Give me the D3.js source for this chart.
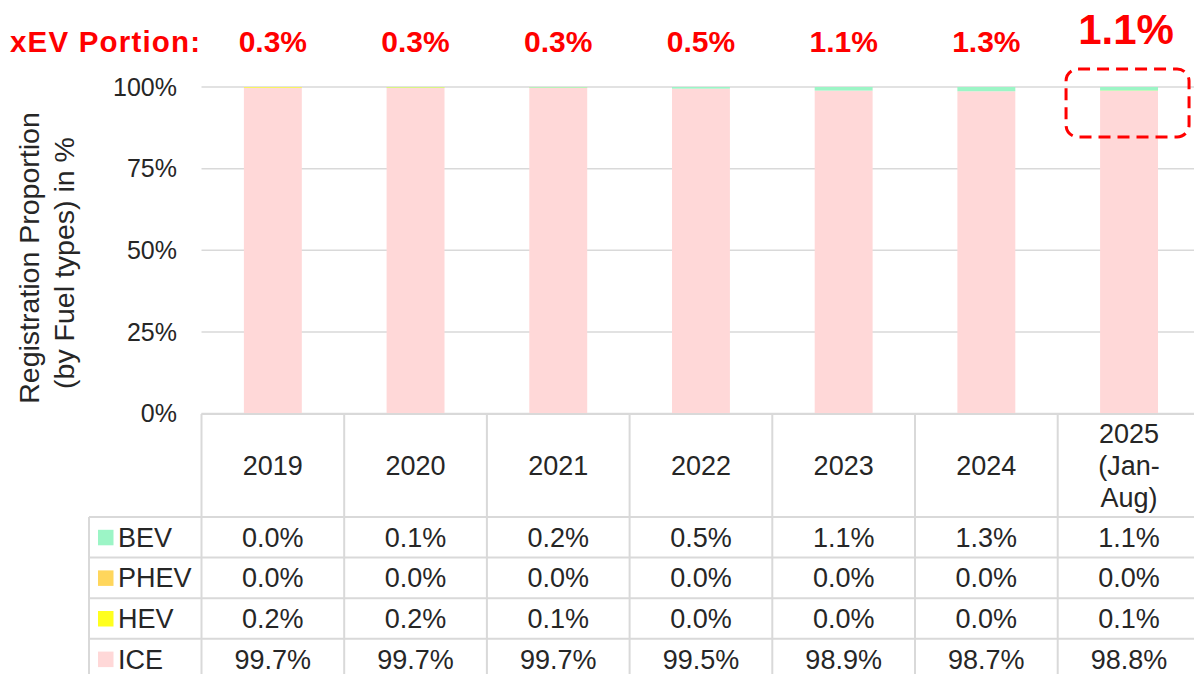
<!DOCTYPE html>
<html>
<head>
<meta charset="utf-8">
<script src="https://cdn.jsdelivr.net/npm/d3@7"></script>
<style>
  body { margin: 0; background: #fff; }
  svg { font-family: "Liberation Sans", Arial, sans-serif; display: block; }
  .grid line { stroke: #d9d9d9; stroke-width: 1.5px; }
  .tbl line { stroke: #d9d9d9; stroke-width: 2px; }
  .cell { fill: #262626; font-size: 27px; text-anchor: middle; }
  .tick-lbl { fill: #262626; font-size: 25px; text-anchor: end; }
  .xev { fill: #ff0000; font-weight: bold; text-anchor: middle; }
</style>
</head>
<body>
<div id="chart"></div>
<script>
// data
var years = ["2019", "2020", "2021", "2022", "2023", "2024", "2025"];
var yearLabels = [["2019"], ["2020"], ["2021"], ["2022"], ["2023"], ["2024"], ["2025", "(Jan-", "Aug)"]];
var fuelTypes = ["BEV", "PHEV", "HEV", "ICE"];
var bev  = [0.0, 0.1, 0.2, 0.5, 1.1, 1.3, 1.1];
var phev = [0.0, 0.0, 0.0, 0.0, 0.0, 0.0, 0.0];
var hev  = [0.2, 0.2, 0.1, 0.0, 0.0, 0.0, 0.1];
var ice  = [99.7, 99.7, 99.7, 99.5, 98.9, 98.7, 98.8];
var xevPortion = [0.3, 0.3, 0.3, 0.5, 1.1, 1.3, 1.1];
var yTicks = [0, 0.25, 0.5, 0.75, 1];

var colors = { BEV: "#9cf5c6", PHEV: "#ffd65c", HEV: "#ffff1e", ICE: "#ffd8d8" };
var series = { BEV: bev, PHEV: phev, HEV: hev, ICE: ice };

var W = 1194, H = 674;
var colW = 142.7, x0 = 201.5;
var rowTop = 517, rowH = 40.6;

var rows = years.map(function (y, i) {
  return { year: y, BEV: bev[i], PHEV: phev[i], HEV: hev[i], ICE: ice[i] };
});

var svg = d3.select("#chart").append("svg")
    .attr("width", W)
    .attr("height", H);

var x = d3.scaleBand()
    .domain(years)
    .range([x0, x0 + colW * years.length])
    .paddingInner(0.594)
    .paddingOuter(0.297);

var y = d3.scaleLinear().domain([0, 1]).range([413.5, 87]);

// gridlines
svg.append("g").attr("class", "grid")
  .selectAll("line").data(yTicks).enter().append("line")
    .attr("x1", x0).attr("x2", W)
    .attr("y1", function (d) { return y(d); })
    .attr("y2", function (d) { return y(d); });

// tick labels
svg.selectAll(".tick-lbl").data(yTicks).enter().append("text")
    .attr("class", "tick-lbl")
    .attr("x", 177)
    .attr("y", function (d) { return y(d); })
    .attr("dy", "0.35em")
    .text(d3.format(".0%"));

// stacked bars, ICE at bottom
var stack = d3.stack()
    .keys(["ICE", "HEV", "PHEV", "BEV"])
    .offset(d3.stackOffsetExpand);

svg.append("g").selectAll("g").data(stack(rows)).enter().append("g")
    .attr("fill", function (d) { return colors[d.key]; })
  .selectAll("rect").data(function (d) { return d; }).enter().append("rect")
    .attr("x", function (d) { return x(d.data.year); })
    .attr("width", x.bandwidth())
    .attr("y", function (d) { return y(d[1]); })
    .attr("height", function (d) { return Math.max(0, y(d[0]) - y(d[1])); });

// table
var tbl = svg.append("g").attr("class", "tbl");
var lastRow = rowTop + rowH * fuelTypes.length;
tbl.append("line").attr("x1", x0).attr("x2", W).attr("y1", 414).attr("y2", 414);
d3.range(fuelTypes.length).forEach(function (r) {
  tbl.append("line").attr("x1", 89).attr("x2", W)
      .attr("y1", rowTop + r * rowH).attr("y2", rowTop + r * rowH);
});
d3.range(years.length + 1).forEach(function (c) {
  tbl.append("line").attr("x1", x0 + c * colW).attr("x2", x0 + c * colW)
      .attr("y1", 414).attr("y2", lastRow);
});
tbl.append("line").attr("x1", 89).attr("x2", 89).attr("y1", rowTop).attr("y2", lastRow);

// header cells
yearLabels.forEach(function (lines, i) {
  var cx = x(years[i]) + x.bandwidth() / 2;
  var mid = 465.5, lh = 32;
  lines.forEach(function (t, k) {
    svg.append("text").attr("class", "cell")
        .attr("x", cx)
        .attr("y", mid + (k - (lines.length - 1) / 2) * lh)
        .attr("dy", "0.35em")
        .text(t);
  });
});

// legend column + values
fuelTypes.forEach(function (f, r) {
  var cy = rowTop + r * rowH + rowH / 2;
  svg.append("rect")
      .attr("x", 98).attr("y", cy - 7.5)
      .attr("width", 15.5).attr("height", 15.5)
      .attr("fill", colors[f]);
  svg.append("text").attr("class", "cell")
      .style("text-anchor", "start")
      .attr("x", 118).attr("y", cy).attr("dy", "0.35em")
      .text(f);
  series[f].forEach(function (v, i) {
    svg.append("text").attr("class", "cell")
        .attr("x", x(years[i]) + x.bandwidth() / 2)
        .attr("y", cy).attr("dy", "0.35em")
        .text(d3.format(".1f")(v) + "%");
  });
});

// y axis title
var title = svg.append("text")
    .attr("transform", "translate(0,260) rotate(-90)")
    .attr("fill", "#262626")
    .style("font-size", "28.5px")
    .style("text-anchor", "middle");
title.append("tspan").attr("x", 2).attr("y", 39).text("Registration Proportion");
title.append("tspan").attr("x", -3).attr("y", 74).text("(by Fuel types) in %");

// xEV portion row
svg.append("text").attr("class", "xev")
    .style("text-anchor", "start")
    .style("font-size", "29.5px")
    .attr("x", 10).attr("y", 52)
    .attr("textLength", 190).attr("lengthAdjust", "spacing")
    .text("xEV Portion:");

svg.selectAll(".xevv").data(xevPortion).enter().append("text")
    .attr("class", "xev")
    .attr("x", function (d, i) { return x(years[i]) + x.bandwidth() / 2 - (i === years.length - 1 ? 3 : 0); })
    .attr("y", function (d, i) { return i === years.length - 1 ? 44 : 52; })
    .style("font-size", function (d, i) { return i === years.length - 1 ? "42px" : "30px"; })
    .text(function (d) { return d3.format(".1f")(d) + "%"; });

// highlight box around latest bar top
var last = years[years.length - 1];
var bx = x(last) + x.bandwidth() / 2;
svg.append("rect")
    .attr("x", bx - 63).attr("y", y(1) - 18)
    .attr("width", 123).attr("height", 68)
    .attr("rx", 12).attr("ry", 12)
    .attr("fill", "none")
    .attr("stroke", "#ff0000")
    .attr("stroke-width", 3)
    .attr("stroke-dasharray", "12 7");
</script>
</body>
</html>
